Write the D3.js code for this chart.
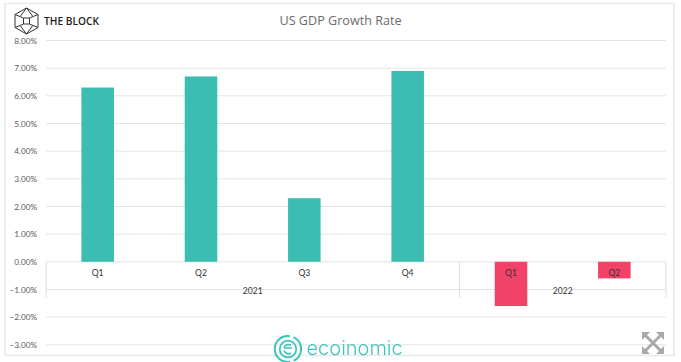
<!DOCTYPE html>
<html><head><meta charset="utf-8">
<script src="https://cdn.jsdelivr.net/npm/d3@7/dist/d3.min.js"></script>
<style>html,body{margin:0;padding:0;background:#fff}svg{display:block;filter:blur(0.45px)}text{font-family:Lato,sans-serif}</style>
</head><body><script>
const quarters = ["Q1","Q2","Q3","Q4","Q1","Q2"];
const years = ["2021","2021","2021","2021","2022","2022"];
const growth = [6.3,6.7,2.3,6.9,-1.6,-0.6];
const yTicks = [8,7,6,5,4,3,2,1,0,-1,-2,-3];
const titleText = "US GDP Growth Rate";
const brandText = "THE BLOCK";
const wmText = "ecoinomic";

const W=681,H=362;
const svg=d3.select("body").append("svg").attr("width",W).attr("height",H);
svg.append("rect").attr("x",5).attr("y",3.5).attr("width",669).attr("height",352)
  .attr("fill","#fff").attr("stroke","#e9e9e9").attr("stroke-width",1.5);

const y=d3.scaleLinear().domain([-3,8]).range([344.8,40.5]);
const x=d3.scaleBand().domain(d3.range(growth.length)).range([46,666]).paddingInner(0.685).paddingOuter(0.3425);

svg.append("g").call(d3.axisLeft(y).tickValues(yTicks).tickSize(0).tickPadding(9).tickFormat(d=>d3.format(".2f")(d)+"%"))
  .call(g=>g.select(".domain").remove())
  .call(g=>g.selectAll("text").attr("font-size",8.2).attr("fill","#595959"))
  .attr("transform","translate(46,0)");
svg.append("g").selectAll("line").data(yTicks).join("line")
  .attr("x1",46).attr("x2",666).attr("y1",d=>y(d)).attr("y2",d=>y(d))
  .attr("stroke","#e4e4e4").attr("stroke-width",1);

const tickBot=y(-1)+8;
const yearGroups=d3.groups(d3.range(growth.length),i=>years[i]);
const bounds=[46,...yearGroups.map(([,ids])=>x(ids[ids.length-1])+x.bandwidth()+x.step()*x.paddingOuter())];
svg.append("g").selectAll("line").data(bounds).join("line")
  .attr("x1",d=>d).attr("x2",d=>d).attr("y1",y(0)).attr("y2",tickBot)
  .attr("stroke","#dedede").attr("stroke-width",1);

svg.append("g").selectAll("rect").data(growth).join("rect")
  .attr("x",(d,i)=>x(i)).attr("width",x.bandwidth())
  .attr("y",d=>y(Math.max(d,0))).attr("height",d=>Math.abs(y(d)-y(0)))
  .attr("fill",d=>d>=0?"#3cbdb2":"#f24268");

svg.append("g").selectAll("text").data(quarters).join("text")
  .attr("x",(d,i)=>x(i)+x.bandwidth()/2).attr("y",y(0)+14).attr("text-anchor","middle")
  .attr("font-size",8.6).attr("fill","#333").text(d=>d);
svg.append("g").selectAll("text").data(yearGroups).join("text")
  .attr("x",([,ids])=>(x(ids[0])+x(ids[ids.length-1])+x.bandwidth())/2).attr("y",y(-1)+5)
  .attr("text-anchor","middle").attr("font-size",8.6).attr("fill","#333").text(d=>d[0]);

svg.append("text").attr("x",340.5).attr("y",24.5).attr("text-anchor","middle")
  .attr("font-size",12.6).style("font-family","'Open Sans',sans-serif").attr("fill","#6b6b6b").text(titleText);

// The Block logo
const logo=svg.append("g").attr("transform","translate(26.5,21)").attr("fill","none").attr("stroke","#333").attr("stroke-width",1);
logo.append("path").attr("d","M0,-13L11.5,-6.5V6.5L0,13L-11.5,6.5V-6.5Z");
logo.append("path").attr("d","M-11.5,-6.5L-3,-3H3L11.5,-6.5M-11.5,6.5L-3,3H3L11.5,6.5M-3,-3V3M3,-3V3M0,-13L-6,-5M0,-13L6,-5M0,13L-6,5M0,13L6,5");
svg.append("text").attr("x",44).attr("y",25).attr("font-size",10.2).attr("font-weight",600)
  .style("font-family","'Open Sans',sans-serif").attr("fill","#222").text(brandText);

// ecoinomic watermark
const wm=svg.append("g").attr("transform","translate(288,349)").attr("fill","none").attr("stroke","#3cc4bb");
wm.append("path").attr("d","M2,-12.8A13,13 0 1 0 2,12.8M5.5,-11.8A13,13 0 0 1 5.5,11.8").attr("stroke-width",2);
wm.append("circle").attr("r",8.3).attr("stroke-width",1.8);
wm.append("path").attr("d","M4,-1H-4M-4,-1A4.4,4.4 0 0 1 3,-3.5M-4,1.5A4.4,4.4 0 0 0 3,3.8").attr("stroke-width",1.6);
svg.append("text").attr("x",306.5).attr("y",354.5).attr("font-size",20).attr("font-weight",300)
  .style("font-family","Inter,sans-serif").attr("fill","#45c6bd").text(wmText);

// expand icon
const ex=svg.append("g").attr("transform","translate(653,343)").attr("stroke","#a9a9a9").attr("fill","#a9a9a9");
ex.append("path").attr("d","M-8,-8L8,8M8,-8L-8,8").attr("stroke-width",3);
ex.append("path").attr("stroke","none").attr("d","M-11,-11H-3L-11,-3ZM11,-11H3L11,-3ZM-11,11H-3L-11,3ZM11,11H3L11,3Z");
</script></body></html>
